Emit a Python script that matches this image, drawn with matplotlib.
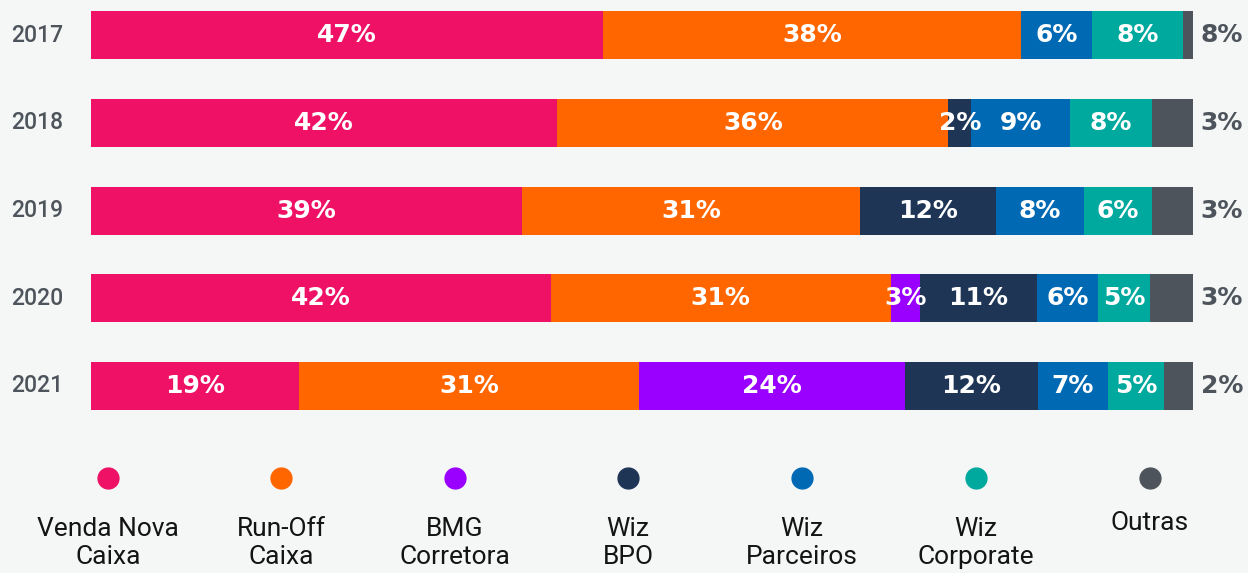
import matplotlib
matplotlib.use("Agg")
import matplotlib.pyplot as plt

years = ["2017", "2018", "2019", "2020", "2021"]
series = ["Venda Nova\nCaixa", "Run-Off\nCaixa", "BMG\nCorretora", "Wiz\nBPO",
          "Wiz\nParceiros", "Wiz\nCorporate", "Outras"]
colors = ["#ee1166", "#ff6600", "#9900ff", "#1e3556", "#0069b4", "#00a99d", "#4d545b"]

# segment widths per series (share of bar)
venda_nova = [46.5, 42.3, 39.1, 41.7, 18.9]
run_off = [37.9, 35.5, 30.7, 30.9, 30.8]
bmg = [0.0, 0.0, 0.0, 2.6, 24.2]
wiz_bpo = [0.0, 2.1, 12.3, 10.6, 12.0]
wiz_parceiros = [6.4, 8.9, 8.0, 5.6, 6.4]
wiz_corporate = [8.3, 7.5, 6.2, 4.7, 5.1]
outras = [0.9, 3.7, 3.7, 3.9, 2.6]

# printed labels
lbl_venda_nova = ["47%", "42%", "39%", "42%", "19%"]
lbl_run_off = ["38%", "36%", "31%", "31%", "31%"]
lbl_bmg = ["", "", "", "3%", "24%"]
lbl_wiz_bpo = ["", "2%", "12%", "11%", "12%"]
lbl_wiz_parceiros = ["6%", "9%", "8%", "6%", "7%"]
lbl_wiz_corporate = ["8%", "8%", "6%", "5%", "5%"]
lbl_outras = ["8%", "3%", "3%", "3%", "2%"]

data = [venda_nova, run_off, bmg, wiz_bpo, wiz_parceiros, wiz_corporate, outras]
labels = [lbl_venda_nova, lbl_run_off, lbl_bmg, lbl_wiz_bpo, lbl_wiz_parceiros,
          lbl_wiz_corporate, lbl_outras]

W, H = 1248, 573
bg = "#f5f6f6"
fig = plt.figure(figsize=(W / 100, H / 100), dpi=100, facecolor=bg)

# bar area
ax = fig.add_axes([91 / W, 1 - 430 / H, (1193 - 91) / W, 430 / H])
ax.set_facecolor(bg)
pitch = 87.75
ax.set_xlim(0, 100)
ax.set_ylim((430 - 35) / pitch, -35 / pitch)
ax.axis("off")

ypos = list(range(len(years)))
left = [0.0] * len(years)
for k, (vals, lbls, c) in enumerate(zip(data, labels, colors)):
    ax.barh(ypos, vals, left=left, height=48 / pitch, color=c, linewidth=0)
    for i in ypos:
        if k == len(data) - 1:
            ax.text(100 + 0.7, i, lbls[i], ha="left", va="center", color="#4d545b",
                    fontsize=18, fontweight="bold", family="DejaVu Sans")
        elif lbls[i]:
            ax.text(left[i] + vals[i] / 2, i, lbls[i], ha="center", va="center",
                    color="white", fontsize=18, fontweight="bold", family="DejaVu Sans")
    left = [l + v for l, v in zip(left, vals)]

for i, y in enumerate(years):
    ax.text(-80 / (1102 / 100), i, y, ha="left", va="center", color="#4d545b",
            fontsize=16.5, family="Roboto", fontweight="medium")

# legend
lx = [108, 281, 455, 628, 802, 976, 1150]
for x, name, c in zip(lx, series, colors):
    fig.lines.append(plt.Line2D([x / W], [1 - 478 / H], marker="o", ms=15, color=c,
                                transform=fig.transFigure, linestyle="none"))
    ty = 517 if "\n" in name else 511
    fig.text(x / W, 1 - ty / H, name, ha="center", va="top", fontsize=19,
             family="Roboto", color="#141414", linespacing=1.2)

fig.savefig("out.png", dpi=100, facecolor=bg)
